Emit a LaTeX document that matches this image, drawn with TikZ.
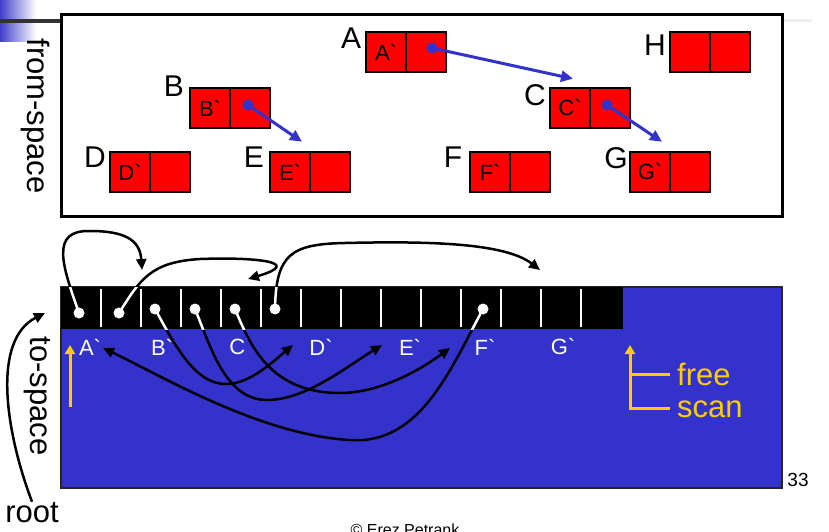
\documentclass[tikz,border=0pt]{standalone}
\usepackage{fontspec}
\setmainfont{Liberation Sans}
\newfontfamily\lsans{Liberation Sans}
\usetikzlibrary{arrows.meta,calc}
\definecolor{tsblue}{RGB}{51,51,204}
\definecolor{arrblue}{RGB}{51,51,204}
\definecolor{ylw}{RGB}{255,204,0}
\definecolor{shblue}{RGB}{64,64,204}
\newcommand\mybq{\symbol{96}}
\newcommand\fsz[1]{\fontsize{#1}{#1}\selectfont}
\begin{document}
\begin{tikzpicture}[x=1pt,y=-1pt,
  cell/.style={draw=black, line width=2.5pt, fill=red, minimum width=40pt, minimum height=40pt, inner sep=0pt, font=\lsans\fsz{22}},
  olbl/.style={inner sep=0pt, font=\fsz{30}},
  tlbl/.style={inner sep=0pt, font=\lsans\fsz{22}, text=white},
  side/.style={inner sep=0pt, font=\fsz{31}, rotate=-90},
  bptr/.style={line width=3pt, draw=arrblue, -{Triangle[length=12pt,width=11pt]}},
  bdot/.style={circle, fill=arrblue, inner sep=0pt, minimum size=11pt},
  wdot/.style={circle, fill=white, inner sep=0pt, minimum size=11pt},
  ptr/.style={line width=2.5pt, draw=black, -{Triangle[length=11pt,width=10pt]}},
  wptr/.style={line width=2.5pt, draw=white},
  yarr/.style={line width=3pt, draw=ylw, -{Triangle[length=9pt,width=10pt]}},
  yln/.style={line width=3pt, draw=ylw},
  ylbl/.style={inner sep=0pt, font=\fsz{31}, text=ylw, anchor=west}
]
\useasboundingbox (0,0) rectangle (829,532);
% slide decorations
\shade[left color=shblue, right color=white] (0,0) rectangle (36,42);
\draw[line width=4pt, draw=black!80] (0,21) -- (61,21);
\draw[line width=3pt, draw=black!6] (784,21) -- (812,21);

% from-space
\draw[line width=3pt] (61,15) rectangle (782,216);
\node[side] (fromlbl) at (35,116) {from-space};

\node[cell] (Aa) at (386,52) {A\mybq};  \node[cell] (Ab) at (426,52) {};
\node[cell] (Ba) at (210,108) {B\mybq}; \node[cell] (Bb) at (250,108) {};
\node[cell] (Ca) at (570,108) {C\mybq}; \node[cell] (Cb) at (610,108) {};
\node[cell] (Da) at (130,172) {D\mybq}; \node[cell] (Db) at (170,172) {};
\node[cell] (Ea) at (290,172) {E\mybq}; \node[cell] (Eb) at (330,172) {};
\node[cell] (Fa) at (490,172) {F\mybq}; \node[cell] (Fb) at (530,172) {};
\node[cell] (Ga) at (650,172) {G\mybq}; \node[cell] (Gb) at (690,172) {};
\node[cell] (Ha) at (690,52) {};        \node[cell] (Hb) at (730,52) {};

\node[olbl] (Al) at (351,38) {A};
\node[olbl] (Bl) at (174,86) {B};
\node[olbl] (Cl) at (535,95) {C};
\node[olbl] (Dl) at (95,157) {D};
\node[olbl] (El) at (254,157) {E};
\node[olbl] (Fl) at (453,157) {F};
\node[olbl] (Gl) at (616,158) {G};
\node[olbl] (Hl) at (655,45) {H};

\node[bdot] (dA) at (432,48) {};
\node[bdot] (dB) at (248,105) {};
\node[bdot] (dC) at (607,105) {};
\coordinate (eC) at ($(Ca.north)+(3,-8)$);
\coordinate (eE) at ($(Ea.north)+(12,-9)$);
\coordinate (eG) at ($(Ga.north)+(12,-9)$);
\draw[bptr] (dA.center) -- (eC);
\draw[bptr] (dB.center) -- (eE);
\draw[bptr] (dC.center) -- (eG);

% to-space
\draw[fill=tsblue, line width=2pt, draw=black!85] (61,287) rectangle (782,488);
\fill[black] (61,287) rectangle (623,329);
\foreach \i in {1,...,13} \draw[white, line width=2pt] ({61+40*\i},289) -- ({61+40*\i},327);
\node[side] (tolbl) at (37,396) {to-space};

\node[tlbl] (lA) at (90,347) {A\mybq};
\node[tlbl] (lB) at (162,347) {B\mybq};
\node[tlbl] (lC) at (241,347) {C\mybq};
\node[tlbl] (lD) at (321,347) {D\mybq};
\node[tlbl] (lE) at (410,347) {E\mybq};
\node[tlbl] (lF) at (485,347) {F\mybq};
\node[tlbl] (lG) at (563,347) {G\mybq};

\coordinate (a1) at (79,313);
\coordinate (a2) at (119,313);
\coordinate (b1) at (155,309);
\coordinate (b2) at (195,309);
\coordinate (c1) at (235,309);
\coordinate (c2) at (275,309);
\coordinate (f1) at (483,309);
\coordinate (tB) at (142,270);
\coordinate (tC) at (248,279);
\coordinate (tG) at (540,270);
\coordinate (tD) at (293,345);
\coordinate (tE) at (382,345);
\coordinate (tF) at (450,348);
\coordinate (tA) at (103,348);

\draw[ptr] (a1) .. controls (62,265) and (50,230) .. (90,231) .. controls (125,231) and (140,240) .. (tB);
\draw[ptr] (a2) .. controls (140,280) and (150,262) .. (200,259) .. controls (255,257) and (305,262) .. (tC);
\draw[ptr] (c2) .. controls (276,255) and (290,244) .. (345,243) .. controls (430,241) and (505,243) .. (tG);
\draw[ptr] (b1) .. controls (175,345) and (195,385) .. (227,384) .. controls (250,384) and (275,360) .. (tD);
\draw[ptr] (b2) .. controls (210,345) and (225,400) .. (267,400) .. controls (305,400) and (345,368) .. (tE);
\draw[ptr] (c1) .. controls (250,345) and (270,393) .. (340,393) .. controls (380,393) and (420,370) .. (tF);
\draw[ptr] (f1) .. controls (450,370) and (420,445) .. (350,440) .. controls (260,435) and (160,375) .. (tA);

\begin{scope}
\clip (61,287) rectangle (623,329);
\draw[wptr] (a1) .. controls (62,265) and (50,230) .. (90,231);
\draw[wptr] (a2) .. controls (140,280) and (150,262) .. (200,259);
\draw[wptr] (c2) .. controls (276,255) and (290,244) .. (345,243);
\draw[wptr] (b1) .. controls (175,345) and (195,385) .. (227,384);
\draw[wptr] (b2) .. controls (210,345) and (225,400) .. (267,400);
\draw[wptr] (c1) .. controls (250,345) and (270,393) .. (340,393);
\draw[wptr] (f1) .. controls (450,370) and (420,445) .. (350,440);
\end{scope}

\foreach \p in {a1,a2,b1,b2,c1,c2,f1} \node[wdot] at (\p) {};

% root
\node[inner sep=0pt, font=\fsz{31}, anchor=base] (root) at (32,522) {root};
\coordinate (rt) at (45,313);
\draw[ptr] (root.north) .. controls (5,430) and (-8,340) .. (rt);

% free / scan
\coordinate (ys0) at (70,407);
\coordinate (ys1) at (70,345);
\draw[yarr] (ys0) -- (ys1);
\coordinate (fs0) at (670,408);
\coordinate (fs1) at (630,408);
\coordinate (fs2) at (630,345);
\coordinate (fs3) at (630,374);
\coordinate (fs4) at (670,374);
\draw[yarr] (fs0) -- (fs1) -- (fs2);
\draw[yln] (fs3) -- (fs4);
\node[ylbl] (free) at (677,374) {free};
\node[ylbl] (scan) at (677,409) {scan};

% page number and footer
\node[inner sep=0pt, font=\fsz{19}] (pg) at (798,480) {33};
\node[inner sep=0pt, font=\fsz{16}, anchor=base] (foot) at (405,535) {© Erez Petrank};
\end{tikzpicture}
\end{document}
